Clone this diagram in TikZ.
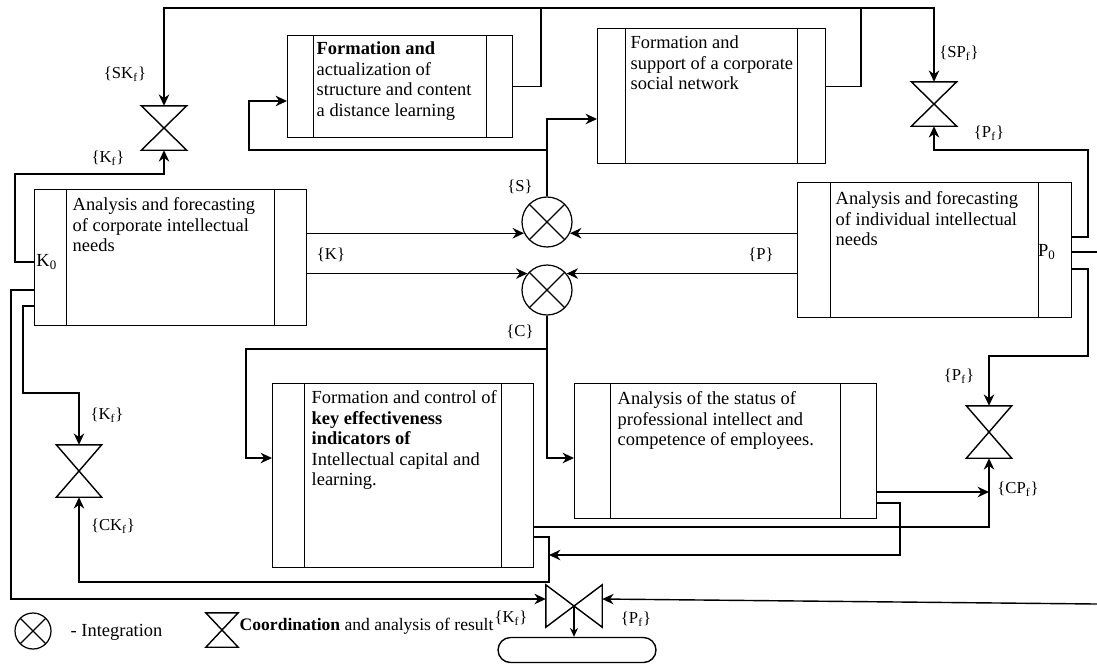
\documentclass[tikz,border=0pt]{standalone}
\usepackage{fontspec}
\setmainfont{Liberation Serif}
\usetikzlibrary{arrows.meta}

\begin{document}
\begin{tikzpicture}[x=0.02cm, y=-0.02cm, line width=0.8pt,
    arr/.style={-{Stealth[length=6.5pt,width=6pt]}},
    procbox/.style={draw, anchor=north west, inner sep=0pt,
        path picture={
            \draw ([xshift=#1]path picture bounding box.north west) -- ([xshift=#1]path picture bounding box.south west)
                  ([xshift=-#1]path picture bounding box.north east) -- ([xshift=-#1]path picture bounding box.south east);}},
    boxtxt/.style={anchor=north west, align=left, inner sep=0pt, font=\fontsize{10.5}{11.7}\selectfont},
    lbl/.style={inner sep=0pt, font=\fontsize{9.5}{11}\selectfont},
    integ/.style={circle, draw, line width=0.7pt, minimum size=1cm, inner sep=0pt,
        path picture={
            \draw (path picture bounding box.north west) -- (path picture bounding box.south east)
                  (path picture bounding box.north east) -- (path picture bounding box.south west);}},
    valve/.style={inner sep=0pt, minimum width=0.88cm, minimum height=0.86cm}]
    \useasboundingbox (0,0) rectangle (1097,664);

    % Upper row: formation blocks
    \node[procbox=0.52cm, minimum width=4.5cm, minimum height=2.04cm] (boxA) at (287,35) {};
    \node[boxtxt] (txtA) at (316,41) {\textbf{Formation and}\\actualization of\\structure and content\\a distance learning};
    \node[procbox=0.56cm, minimum width=4.56cm, minimum height=2.7cm] (boxB) at (597,28) {};
    \node[boxtxt] (txtB) at (630,35) {Formation and\\support of a corporate\\social network};

    % Middle row: analysis and forecasting blocks
    \node[procbox=0.64cm, minimum width=5.44cm, minimum height=2.72cm] (boxC) at (34,189) {};
    \node[boxtxt] (txtC) at (72,197) {Analysis and forecasting\\of corporate intellectual\\needs};
    \node[procbox=0.66cm, minimum width=5.48cm, minimum height=2.7cm] (boxD) at (797,182) {};
    \node[boxtxt] (txtD) at (835,191) {Analysis and forecasting\\of individual intellectual\\needs};
    \node[anchor=west, inner sep=1pt, font=\fontsize{10.5}{11.7}\selectfont] (k0) at (boxC.west |- 0,262) {K\textsubscript{0}};
    \node[inner sep=1pt, font=\fontsize{10.5}{11.7}\selectfont] (p0) at (1047,252) {P\textsubscript{0}};

    % Lower row: control and status blocks
    \node[procbox=0.64cm, minimum width=5.22cm, minimum height=3.68cm] (boxF) at (272,383) {};
    \node[boxtxt] (txtF) at (311,390) {Formation and control of\\\textbf{key effectiveness}\\\textbf{indicators of}\\Intellectual capital and\\learning.};
    \node[procbox=0.72cm, minimum width=6.04cm, minimum height=2.7cm] (boxE) at (574,383) {};
    \node[boxtxt] (txtE) at (617,391) {Analysis of the status of\\professional intellect and\\competence of employees.};

    % Integration points
    \node[integ] (cS) at (547,222) {};
    \node[integ] (cC) at (547,290) {};

    % Coordination valves
    \node[valve] (vSK) at (164,128) {};
    \node[valve] (vSP) at (934,104) {};
    \node[valve, minimum height=1.02cm] (vCK) at (79,471) {};
    \node[valve, minimum height=1.02cm] (vCP) at (989,432) {};
    \foreach \v in {vSK,vSP,vCK,vCP}
        \draw (\v.north west) -- (\v.north east) -- (\v.south west) -- (\v.south east) -- cycle;
    \node[valve, minimum width=1.1cm, minimum height=0.82cm] (vR) at (574,606) {};
    \draw (vR.north west) -- (vR.south west) -- (vR.north east) -- (vR.south east) -- cycle;
    \node[draw, rounded corners=0.25cm, minimum width=3.16cm, minimum height=0.5cm] (term) at (577,650) {};

    % Top feedback bus
    \coordinate (topA) at (541,8);
    \coordinate (topB) at (861,8);
    \draw[arr] (boxA.east) -| (topA) -| (vSK.north);
    \draw[arr] (boxB.east |- boxA.east) -| (topB) -| (vSP.north);
    \draw (topA) -- (topB);

    % Corporate needs block
    \draw[arr] (k0.west) -| (15,174) -| (vSK.south);
    \draw[arr] (boxC.east |- cS.206) -- (cS.206);
    \draw[arr] (boxC.east |- cC.140) -- (cC.140);
    \draw[arr] (boxC.west |- 0,306) -| (23,393) -| (vCK.north);
    \draw[arr] (boxC.west |- 0,290) -| (11,599) -- (vR.west |- 0,599);

    % Individual needs block
    \draw[arr] (boxD.west |- cS.334) -- (cS.334);
    \draw[arr] (boxD.west |- cC.40) -- (cC.40);
    \draw[arr] (boxD.east |- 0,237) -| (1088,150) -| (vSP.south);
    \draw[arr] (boxD.east |- 0,269) -| (1088,356) -| (vCP.north);
    \coordinate (outP) at (1097,252);
    \draw (boxD.east |- outP) -- (outP);

    % From integration points
    \draw[arr] (cS.north) |- (249,150) |- (boxA.west |- 0,101);
    \draw[arr] (cS.north) |- (boxB.west |- 0,119);
    \draw[arr] (cC.south) |- (246,349) |- (boxF.west |- 0,458);
    \draw[arr] (cC.south) |- (boxE.west |- 0,458);

    % Results to the lower valves
    \draw[arr] (boxE.east |- 0,492) -- (vCP.south |- 0,492);
    \draw[arr] (boxF.east |- 0,527) -| (vCP.south);
    \coordinate (fdrop) at (549,555);
    \draw[arr] (boxF.east |- 0,537) -| (549,582) -| (vCK.south);
    \draw[arr] (boxE.east |- 0,503) -| (900,555) -- (fdrop);

    % Bottom valve
    \coordinate (inR) at (1097,604);
    \draw[arr] (inR) -- (vR.east |- 0,599);
    \draw[-{Stealth[length=5pt,width=4.5pt]}] (vR.center) -- (vR.center |- term.north);

    % Labels
    \node[lbl] (lSK) at (125,74) {\{SK\textsubscript{f}\}};
    \node[lbl] (lKa) at (108,158) {\{K\textsubscript{f}\}};
    \node[lbl] (lS) at (520,187) {\{S\}};
    \node[lbl] (lK) at (331,255) {\{K\}};
    \node[lbl] (lP) at (761,255) {\{P\}};
    \node[lbl] (lC) at (520,332) {\{C\}};
    \node[lbl] (lSP) at (959,53) {\{SP\textsubscript{f}\}};
    \node[lbl] (lPa) at (989,133) {\{P\textsubscript{f}\}};
    \node[lbl] (lPb) at (959,376) {\{P\textsubscript{f}\}};
    \node[lbl] (lCP) at (1018,489) {\{CP\textsubscript{f}\}};
    \node[lbl] (lKb) at (107,415) {\{K\textsubscript{f}\}};
    \node[lbl] (lCK) at (113,526) {\{CK\textsubscript{f}\}};
    \node[lbl] (lKc) at (511,618) {\{K\textsubscript{f}\}};
    \node[lbl] (lPc) at (636,619) {\{P\textsubscript{f}\}};

    % Legend
    \node[integ, minimum size=0.72cm] (legI) at (33,631) {};
    \node[anchor=west, inner sep=0pt, font=\fontsize{10.5}{11.7}\selectfont] (legItxt) at (70,632) {- Integration};
    \node[valve, minimum width=0.62cm, minimum height=0.66cm] (legV) at (222,630) {};
    \draw (legV.north west) -- (legV.north east) -- (legV.south west) -- (legV.south east) -- cycle;
    \node[anchor=west, inner sep=0pt, font=\fontsize{10}{11.7}\selectfont] (legVtxt) at (239,626) {\textbf{Coordination} and analysis of result};
\end{tikzpicture}
\end{document}
